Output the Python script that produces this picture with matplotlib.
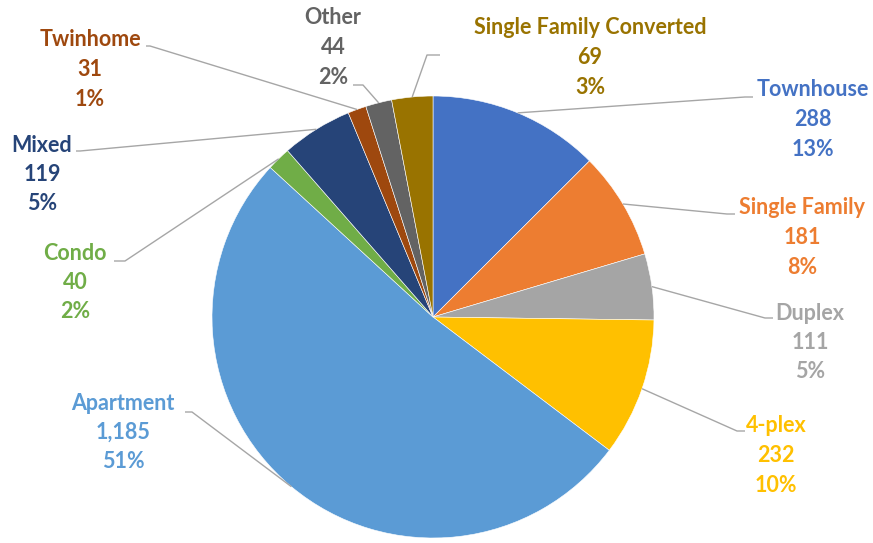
import numpy as np
import matplotlib.pyplot as plt

# housing units by building type, in order clockwise from 12 o'clock
types = ["Townhouse", "Single Family", "Duplex", "4-plex", "Apartment",
         "Condo", "Mixed", "Twinhome", "Other", "Single Family Converted"]
units = [288, 181, 111, 232, 1185, 40, 119, 31, 44, 69]
colors = ["#4472C4", "#ED7D31", "#A5A5A5", "#FFC000", "#5B9BD5",
          "#70AD47", "#264478", "#9E480E", "#636363", "#997300"]

# label layout in pixels (x, y of the name line) and leader elbow -> tip
label_xy = [(813, 90), (802, 208), (810, 313), (776, 426), (123, 403),
            (75, 253), (42, 145), (90, 40), (333, 18), (590, 28)]
elbows = [((745, 97), (753, 97)), ((727, 214), (735, 214)),
          ((765, 318), (773, 318)), ((737, 431), (745, 431)),
          ((192, 412), (185, 412)), ((125, 261), (114, 261)),
          ((80, 151), (76, 151)), ((150, 46), (146, 46)),
          ((363, 85), (353, 85)), ((427, 55), (440, 55))]

W, H = 873, 543
cx, cy, r = 433, 317, 221


def whole_percents(vals):
    # largest-remainder rounding so the shown percentages add up to 100
    share = np.array(vals) / sum(vals) * 100
    pct = np.floor(share).astype(int)
    order = sorted(range(len(vals)), key=lambda i: -(share[i] - pct[i]))
    for i in order[:100 - pct.sum()]:
        pct[i] += 1
    return pct


fig = plt.figure(figsize=(W / 100, H / 100), dpi=100)
ax = fig.add_axes([0, 0, 1, 1])

wedges, _ = ax.pie(units, colors=colors, startangle=90, counterclock=False,
                   center=(cx, H - cy), radius=r,
                   wedgeprops=dict(edgecolor="white", linewidth=0.4))
# pie() resets the limits, so put the pixel frame back afterwards
ax.set_xlim(0, W)
ax.set_ylim(0, H)
ax.set_aspect("equal")
ax.axis("off")

pcts = whole_percents(units)
for w, name, n, p, col, (lx, ly), (e1, e2) in zip(
        wedges, types, units, pcts, colors, label_xy, elbows):
    mid = np.deg2rad((w.theta1 + w.theta2) / 2)
    px, py = cx + r * np.cos(mid), (H - cy) + r * np.sin(mid)
    ax.plot([px, e1[0], e2[0]], [py, H - e1[1], H - e2[1]],
            color="#a6a6a6", lw=1.0, solid_capstyle="butt")
    lines = [name, f"{n:,}", f"{p}%"]
    for i, s in enumerate(lines):
        ax.text(lx, H - (ly + 29.5 * i), s, color=col, fontsize=15.5,
                fontweight="bold", family="Lato", ha="center", va="center")

fig.savefig("out.png", dpi=100)
